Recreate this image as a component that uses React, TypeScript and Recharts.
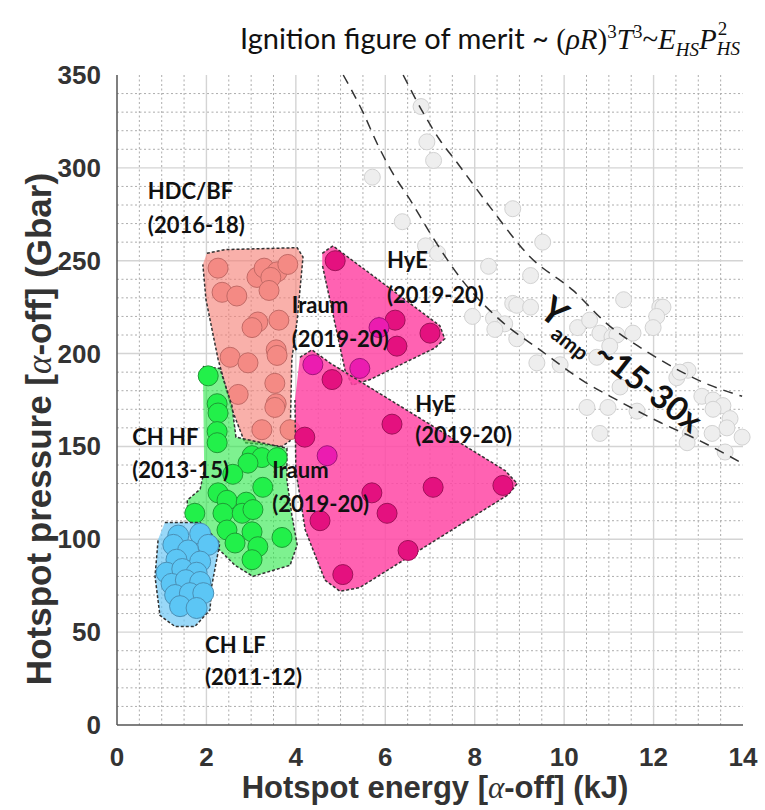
import React from "react";
import { ScatterChart, Scatter, XAxis, YAxis, ReferenceLine } from "recharts";

// axis ticks
const xMajor = [0, 2, 4, 6, 8, 10, 12, 14];
const yMajor = [0, 50, 100, 150, 200, 250, 300, 350];
const xMinor = Array.from({ length: 29 }, (_, i) => i * 0.5).filter((v) => v % 2 !== 0);
const yMinor = Array.from({ length: 36 }, (_, i) => i * 10).filter((v) => v % 50 !== 0);

// shots: [energy kJ, pressure Gbar]
const greyShots = [
  [6.8, 333], [6.93, 314], [7.08, 304], [5.71, 295], [6.38, 271], [6.9, 258], [7.17, 254],
  [8.85, 278], [9.52, 260], [8.31, 247], [9.25, 242], [11.33, 229], [8.85, 227], [8.94, 226],
  [9.25, 225], [7.95, 220], [8.42, 219], [8.67, 216], [8.45, 213], [8.94, 208], [9.39, 195],
  [9.91, 194], [10.3, 214], [10.57, 218], [10.8, 211], [11.07, 209], [11.18, 210], [11.02, 204],
  [11.54, 211], [12.14, 225], [12.21, 225], [12.07, 220], [11.99, 214], [12.77, 191], [12.52, 187],
  [12.59, 190], [10.73, 198], [11.25, 182], [13.08, 177], [13.33, 175], [13.55, 172], [13.33, 170],
  [13.71, 165], [13.64, 160], [13.98, 155], [13.31, 157], [12.82, 157], [12.75, 152], [13.6, 147],
  [10.51, 171], [10.98, 171], [11.63, 169], [10.8, 157],
];

const chLfShots = [
  [1.37, 102], [1.86, 103], [2.04, 97], [1.26, 97], [1.59, 94], [1.33, 89], [1.86, 88],
  [1.11, 82], [1.46, 84], [1.78, 82], [1.22, 76], [1.54, 78], [1.86, 77], [1.3, 70],
  [1.63, 71], [1.93, 71], [1.41, 64], [1.78, 63],
];

const chHfShots = [
  [2.04, 188], [2.24, 173], [2.26, 168], [2.24, 158], [2.24, 152], [3.02, 145], [3.24, 144],
  [3.58, 144], [2.93, 141], [2.59, 135], [3.26, 128], [2.26, 125], [2.46, 121], [2.89, 120],
  [1.74, 114], [2.37, 114], [2.8, 114], [3.04, 116], [2.46, 105], [3.02, 104], [2.64, 98],
  [3.15, 96], [3.69, 101], [3.02, 89],
];

const hdcShots = [
  [2.26, 246], [3.13, 241], [3.29, 246], [3.58, 244], [3.82, 248], [3.44, 241], [3.4, 234],
  [2.35, 233], [2.68, 231], [3.15, 217], [3.02, 214], [3.62, 218], [2.53, 198], [2.93, 195],
  [3.56, 202], [3.58, 199], [3.53, 184], [2.71, 178], [3.56, 173], [3.53, 171], [3.24, 159],
  [3.87, 159],
];

const hyeShots = [
  [4.88, 250], [6.22, 218], [6.26, 204], [7.0, 211],
  [4.81, 186], [6.15, 162], [4.2, 155], [7.07, 128], [8.63, 129],
  [5.7, 125], [6.04, 114], [4.54, 110], [6.51, 94], [5.05, 81],
];
const iraumShots = [
  [5.86, 214], [5.43, 192], [4.38, 194], [4.7, 145],
];

// outlines of the shaded groups
const chLfOutline = [
  [1.07, 109], [1.86, 109], [2.3, 98], [2.12, 75], [2.08, 62], [1.74, 53], [1.3, 53],
  [0.96, 59], [0.85, 80], [0.92, 100],
];
const chHfOutline = [
  [1.92, 193], [2.3, 192], [2.57, 172], [2.66, 155], [3.8, 149], [3.8, 132], [3.91, 113],
  [4.03, 97], [3.87, 86], [3.04, 80], [2.64, 86], [2.26, 95], [1.59, 112], [1.57, 121],
  [1.86, 127], [1.95, 137],
];
const hdcOutline = [
  [2.01, 254], [2.42, 256], [4.03, 257], [4.16, 252], [4.03, 218], [3.91, 197], [3.87, 153],
  [3.69, 150], [2.86, 152], [2.57, 170], [2.26, 197], [1.99, 229], [1.92, 248],
];
const hyeUpperOutline = [
  [4.59, 254], [4.83, 258], [7.22, 215], [7.33, 208], [7.11, 203], [5.66, 186], [5.26, 183],
  [5.1, 191], [4.59, 248],
];
const hyeLowerOutline = [
  [4.09, 198], [4.36, 202], [4.76, 195], [8.68, 137], [8.95, 130], [8.75, 124], [5.43, 74],
  [4.99, 72], [4.65, 78], [4.21, 105], [4.0, 137], [3.98, 175],
];

// Yamp guide curves
const yampLow = [
  [5.06, 350], [5.5, 330], [5.82, 313], [6.17, 297], [6.55, 283], [7.0, 265], [7.67, 241],
  [8.57, 218], [9.46, 202], [10.51, 184], [11.03, 177], [12.14, 163], [13.04, 153], [13.98, 141],
];
const yampHigh = [
  [6.4, 350], [6.84, 330], [7.22, 315], [7.6, 303], [8.34, 279], [9.24, 252], [10.2, 234],
  [10.96, 216], [11.92, 200], [13.26, 183], [13.98, 177],
];

const annotations = [
  { x: 0.69, y: 283, text: "HDC/BF" },
  { x: 0.69, y: 265, text: "(2016-18)" },
  { x: 3.91, y: 222, text: "Iraum" },
  { x: 3.91, y: 203.5, text: "(2019-20)" },
  { x: 6.04, y: 246, text: "HyE" },
  { x: 6.04, y: 227, text: "(2019-20)" },
  { x: 6.67, y: 168.5, text: "HyE" },
  { x: 6.67, y: 152, text: "(2019-20)" },
  { x: 3.47, y: 133, text: "Iraum" },
  { x: 3.47, y: 114.7, text: "(2019-20)" },
  { x: 0.34, y: 151, text: "CH HF" },
  { x: 0.34, y: 133, text: "(2013-15)" },
  { x: 1.97, y: 39, text: "CH LF" },
  { x: 1.97, y: 21.5, text: "(2011-12)" },
];
const yampLabel = [{ x: 9.4, y: 221 }];

const toPts = (arr: number[][]) => arr.map(([x, y]) => ({ x, y }));

const dot = (fill: string, stroke: string, r: number) => (p: any) =>
  <circle cx={p.cx} cy={p.cy} r={r} fill={fill} stroke={stroke} strokeWidth={1} />;
const none = () => <g />;

const labelFont = "Lato, 'Open Sans', sans-serif";
const axisFont = "Arial, 'Liberation Sans', Helvetica, sans-serif";
const serif = "'Liberation Serif', 'Times New Roman', serif";

const XTick = (p: any) => (
  <text x={p.x} y={p.y + 33} textAnchor="middle" fontFamily={axisFont} fontWeight={700} fontSize={26} fill="#333">
    {p.payload.value}
  </text>
);
const YTick = (p: any) => (
  <text x={p.x - 8} y={p.y + 9} textAnchor="end" fontFamily={axisFont} fontWeight={700} fontSize={26} fill="#333">
    {p.payload.value}
  </text>
);

const XLabel = (p: any) => {
  const vb = p.viewBox;
  return (
    <text x={vb.x + vb.width / 2 + 5} y={vb.y + 73} textAnchor="middle" fontFamily={axisFont} fontWeight={700} fontSize={31} fill="#333">
      Hotspot energy [<tspan fontFamily={serif} fontStyle="italic" fontWeight={400}>α</tspan>-off] (kJ)
    </text>
  );
};
const YLabel = (p: any) => {
  const vb = p.viewBox;
  const cx = 51;
  const cy = vb.y + vb.height / 2 + 29;
  return (
    <text x={cx} y={cy} transform={`rotate(-90 ${cx} ${cy})`} textAnchor="middle" fontFamily={axisFont} fontWeight={700} fontSize={35} fill="#333">
      Hotspot pressure [<tspan fontFamily={serif} fontStyle="italic" fontWeight={400}>α</tspan>-off] (Gbar)
    </text>
  );
};

export default function App() {
  const regionLine = (fill: string) => ({
    fill,
    stroke: "#333",
    strokeWidth: 1.5,
    strokeDasharray: "3 2",
  });
  const sub = { fontSize: 19 };
  return (
    <div style={{ position: "absolute", left: 0, top: 0, width: 765, height: 810, background: "#fff" }}>
      <div
        style={{
          position: "absolute",
          left: 240,
          top: 14,
          fontSize: 29,
          lineHeight: "36px",
          color: "#111",
          whiteSpace: "nowrap",
          fontFamily: labelFont,
        }}
      >
        Ignition figure of merit ~{" "}
        <span style={{ fontFamily: serif }}>
          (<i>ρR</i>)<sup style={sub}>3</sup>
          <i>T</i>
          <sup style={sub}>3</sup>~<i>E</i>
          <sub style={sub}><i>HS</i></sub>
          <i>P</i>
          <span style={{ display: "inline-block", position: "relative", width: 28, height: 20 }}>
            <span style={{ position: "absolute", left: 1, top: -18, ...sub }}>2</span>
            <span style={{ position: "absolute", left: 0, top: 2, ...sub }}><i>HS</i></span>
          </span>
        </span>
      </div>
      <ScatterChart width={765} height={810} margin={{ top: 75, right: 22, bottom: 0, left: 0 }}>
        <XAxis
          type="number"
          dataKey="x"
          domain={[0, 14]}
          ticks={xMajor}
          height={85}
          tick={<XTick />}
          tickLine={false}
          axisLine={{ stroke: "#555", strokeWidth: 1.5 }}
          label={<XLabel />}
        />
        <YAxis
          type="number"
          dataKey="y"
          domain={[0, 350]}
          ticks={yMajor}
          width={117}
          tick={<YTick />}
          tickLine={false}
          axisLine={{ stroke: "#555", strokeWidth: 1.5 }}
          label={<YLabel />}
        />
        <XAxis
          xAxisId="top"
          orientation="top"
          type="number"
          dataKey="x"
          domain={[0, 14]}
          ticks={xMajor}
          height={0}
          mirror
          tick={false}
          tickSize={7}
          tickLine={{ stroke: "#555", strokeWidth: 1.5 }}
          axisLine={{ stroke: "#555", strokeWidth: 1.5 }}
        />
        <YAxis
          yAxisId="right"
          orientation="right"
          type="number"
          dataKey="y"
          domain={[0, 350]}
          ticks={yMajor}
          width={0}
          mirror
          tick={false}
          tickSize={7}
          tickLine={{ stroke: "#555", strokeWidth: 1.5 }}
          axisLine={{ stroke: "#555", strokeWidth: 1.5 }}
        />

        {xMinor.map((v) => (
          <ReferenceLine key={"xm" + v} x={v} stroke="#acacac" strokeDasharray="2 2.5" />
        ))}
        {yMinor.map((v) => (
          <ReferenceLine key={"ym" + v} y={v} stroke="#acacac" strokeDasharray="2 2.5" />
        ))}
        {xMajor.slice(1, -1).map((v) => (
          <ReferenceLine key={"xM" + v} x={v} stroke="#d4d4d4" strokeWidth={1.4} />
        ))}
        {yMajor.slice(1, -1).map((v) => (
          <ReferenceLine key={"yM" + v} y={v} stroke="#d4d4d4" strokeWidth={1.4} />
        ))}

        <Scatter data={toPts(greyShots)} shape={dot("#eeeeee", "#d2d2d2", 8)} isAnimationActive={false} />
        <Scatter
          data={toPts(yampLow)}
          shape={none}
          line={{ stroke: "#333", strokeWidth: 1.5, strokeDasharray: "10 7" }}
          lineJointType="monotoneX"
          isAnimationActive={false}
        />
        <Scatter
          data={toPts(yampHigh)}
          shape={none}
          line={{ stroke: "#333", strokeWidth: 1.5, strokeDasharray: "10 7" }}
          lineJointType="monotoneX"
          isAnimationActive={false}
        />

        <Scatter data={toPts(hdcOutline)} shape={none} line={regionLine("rgba(246,128,118,0.62)")} lineJointType="catmullRomClosed" isAnimationActive={false} />
        <Scatter data={toPts(hdcShots)} shape={dot("#f48a84", "#c26a66", 10)} isAnimationActive={false} />

        <Scatter data={toPts(chHfOutline)} shape={none} line={regionLine("rgba(40,232,70,0.6)")} lineJointType="catmullRomClosed" isAnimationActive={false} />
        <Scatter data={toPts(chHfShots)} shape={dot("#22f04a", "#1f9a35", 10)} isAnimationActive={false} />

        <Scatter data={toPts(chLfOutline)} shape={none} line={regionLine("rgba(110,200,245,0.7)")} lineJointType="catmullRomClosed" isAnimationActive={false} />
        <Scatter data={toPts(chLfShots)} shape={dot("#5cc6f5", "#4a8fb5", 10.5)} isAnimationActive={false} />

        <Scatter data={toPts(hyeUpperOutline)} shape={none} line={regionLine("rgba(255,70,165,0.85)")} lineJointType="catmullRomClosed" isAnimationActive={false} />
        <Scatter data={toPts(hyeLowerOutline)} shape={none} line={regionLine("rgba(255,70,165,0.85)")} lineJointType="catmullRomClosed" isAnimationActive={false} />
        <Scatter data={toPts(hyeShots)} shape={dot("#e4117f", "#9e1058", 10)} isAnimationActive={false} />
        <Scatter data={toPts(iraumShots)} shape={dot("#eb1cb0", "#a0147a", 10)} isAnimationActive={false} />

        <Scatter
          data={annotations}
          isAnimationActive={false}
          shape={(p: any) => (
            <text x={p.cx} y={p.cy} fontFamily={labelFont} fontWeight={700} fontSize={22} fill="#111">
              {p.payload.text}
            </text>
          )}
        />
        <Scatter
          data={yampLabel}
          isAnimationActive={false}
          shape={(p: any) => (
            <text
              x={p.cx}
              y={p.cy}
              transform={`rotate(38 ${p.cx} ${p.cy})`}
              fontFamily={labelFont}
              fontWeight={700}
              fill="#111"
            >
              <tspan fontSize={36}>Y</tspan>
              <tspan fontSize={21} dy={10}>amp</tspan>
              <tspan fontSize={33} dy={-10} dx={6}>~15-30x</tspan>
            </text>
          )}
        />
      </ScatterChart>
    </div>
  );
}
